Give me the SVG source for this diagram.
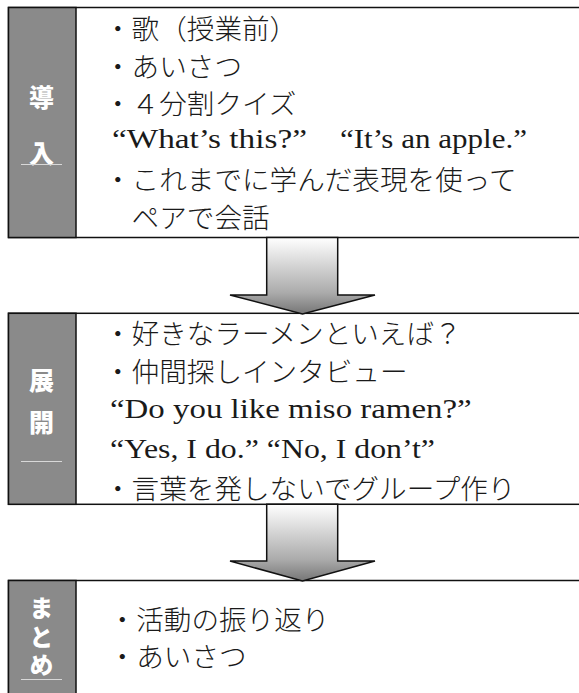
<svg xmlns="http://www.w3.org/2000/svg" width="579" height="693" viewBox="0 0 579 693">
<style>
.box{fill:#ffffff;stroke:#111;stroke-width:1.5}
.side{fill:#8a8a8a;stroke:#111;stroke-width:1.5}
.lbl{font-family:"Noto Sans CJK JP","Noto Sans",sans-serif;font-weight:900;font-size:25px;fill:#ffffff;text-anchor:middle}
.vlbl{font-family:"Noto Sans CJK JP","Noto Sans",sans-serif;font-weight:900;font-size:24px;fill:#ffffff;writing-mode:vertical-rl;letter-spacing:4.5px}
.ul{stroke:#d8d8d8;stroke-width:1}
.jp{font-family:"Noto Sans CJK JP",sans-serif;font-weight:300;font-size:27.6px;fill:#1a1a1a}
.en{font-family:"Liberation Serif","Times New Roman",serif;font-size:27px;fill:#1a1a1a}
.arrow{fill:url(#ag);stroke:#111;stroke-width:1.5;stroke-linejoin:miter}
</style>
<defs>
<linearGradient id="ag" x1="0" y1="0" x2="0" y2="1">
<stop offset="0" stop-color="#ffffff"/>
<stop offset="0.72" stop-color="#ababab"/>
<stop offset="1" stop-color="#767676"/>
</linearGradient>
</defs>
<rect width="579" height="693" fill="#ffffff"/>

<g id="node-intro">
<rect class="box" x="8.5" y="7.5" width="600" height="230"/>
<rect class="side" x="8.5" y="7.5" width="67.5" height="230"/>
<text class="lbl" x="41.5" y="106.5">導</text>
<text class="lbl" x="41.5" y="162.5">入</text>
<line class="ul" x1="21" y1="164.5" x2="62" y2="164.5"/>
<text class="jp" x="104" y="38.8">・歌（授業前）</text>
<text class="jp" x="104" y="76.6">・あいさつ</text>
<text class="jp" x="104" y="114.4">・４分割クイズ</text>
<text class="en" x="112" y="148" textLength="195" lengthAdjust="spacingAndGlyphs">“What’s this?”</text>
<text class="en" x="340" y="148" textLength="187" lengthAdjust="spacingAndGlyphs">“It’s an apple.”</text>
<text class="jp" x="104" y="190">・これまでに学んだ表現を使って</text>
<text class="jp" x="131.6" y="227.8">ペアで会話</text>
</g>

<g id="node-develop">
<rect class="box" x="8.5" y="313.3" width="600" height="191"/>
<rect class="side" x="8.5" y="313.3" width="67.5" height="191"/>
<text class="lbl" x="41.5" y="389.5">展</text>
<text class="lbl" x="41.5" y="431.5">開</text>
<line class="ul" x1="21" y1="461.5" x2="62" y2="461.5"/>
<text class="jp" x="104" y="344.3">・好きなラーメンといえば？</text>
<text class="jp" x="104" y="382">・仲間探しインタビュー</text>
<text class="en" x="110" y="418" textLength="361.7" lengthAdjust="spacingAndGlyphs">“Do you like miso ramen?”</text>
<text class="en" x="110" y="458" textLength="325" lengthAdjust="spacingAndGlyphs">“Yes, I do.” “No, I don’t”</text>
<text class="jp" x="104" y="499.3">・言葉を発しないでグループ作り</text>
</g>

<g id="node-summary">
<rect class="box" x="8.5" y="580.5" width="600" height="200"/>
<rect class="side" x="8.5" y="580.5" width="67.5" height="200"/>
<text class="vlbl" x="41.5" y="596">まとめ</text>
<line class="ul" x1="21" y1="679.5" x2="62" y2="679.5"/>
<text class="jp"><tspan x="108.6" y="630.3">・活動の振り返り</tspan><tspan x="108.6" y="666.5">・あいさつ</tspan></text>
</g>

<g id="connectors">
<polygon class="arrow" points="266.7,237.5 337.7,237.5 337.7,295 375,295 302.5,314 230,295 266.7,295"/>
<polygon class="arrow" points="266.7,504.3 337.7,504.3 337.7,561 375,561 302.5,581 230,561 266.7,561"/>
</g>
</svg>
